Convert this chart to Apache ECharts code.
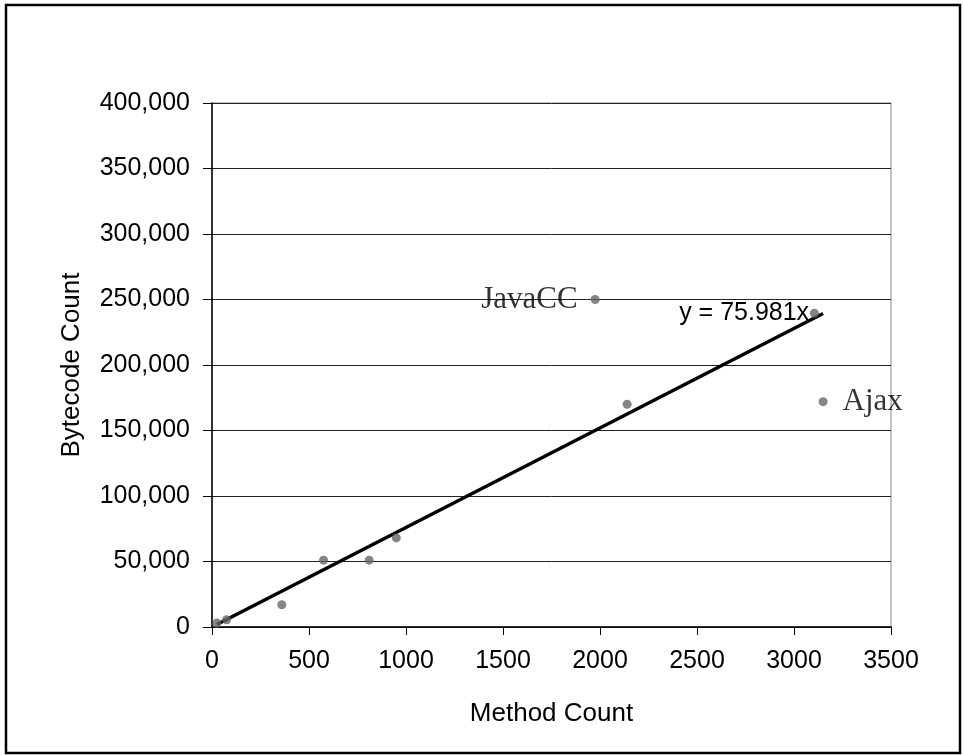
<!DOCTYPE html>
<html>
<head>
<meta charset="utf-8">
<script src="https://cdn.jsdelivr.net/npm/echarts@6/dist/echarts.min.js"></script>
<style>html,body{margin:0;padding:0;background:#fff}#c{width:964px;height:755px}</style>
</head>
<body>
<div id="c"></div>
<script>
const methodCounts   = [25, 75, 360, 575, 810, 950, 1975, 2140, 3105, 3150];
const bytecodeCounts = [3000, 5500, 17000, 51000, 51000, 68000, 250000, 170000, 239500, 172000];
const pointNames     = ['', '', '', '', '', '', 'JavaCC', '', '', 'Ajax'];
const trendSlope = 75.981;
const trendLabel = 'y = 75.981x';
const xTicks = [0, 500, 1000, 1500, 2000, 2500, 3000, 3500];
const yTicks = [0, 50000, 100000, 150000, 200000, 250000, 300000, 350000, 400000];

const chart = echarts.init(document.getElementById('c'), null, {renderer: 'canvas'});
const sans = 'Liberation Sans, Arial, sans-serif';
const serif = 'Liberation Serif, Times New Roman, serif';

const scatterData = methodCounts.map((x, i) => {
  const d = {value: [x, bytecodeCounts[i]], name: pointNames[i]};
  if (pointNames[i]) {
    d.label = {
      show: true, formatter: '{b}',
      position: pointNames[i] === 'Ajax' ? 'right' : 'left',
      distance: pointNames[i] === 'Ajax' ? 15 : 13,
      fontFamily: serif, fontSize: 31, color: '#000'
    };
  }
  return d;
});
const xMin = Math.min(...methodCounts), xMax = Math.max(...methodCounts);
const trendData = [
  {value: [xMin, trendSlope * xMin]},
  {value: [xMax, trendSlope * xMax], label: {show: true, formatter: trendLabel, position: 'left', distance: 14,
    fontFamily: sans, fontSize: 25, color: '#000'}}
];

chart.setOption({
  animation: false,
  backgroundColor: '#fff',
  grid: {left: 212, right: 73, top: 103, bottom: 128, show: true, borderColor: '#888', borderWidth: 1},
  xAxis: {
    type: 'value', min: xTicks[0], max: xTicks[xTicks.length - 1], interval: 500,
    name: 'Method Count', nameLocation: 'middle', nameGap: 74,
    nameTextStyle: {fontFamily: sans, fontSize: 26, color: '#000'},
    axisLine: {show: true, onZero: false, lineStyle: {color: '#000', width: 1.5}},
    axisTick: {show: true, inside: false, length: 8, lineStyle: {color: '#000'}},
    axisLabel: {margin: 22, fontFamily: sans, fontSize: 25, color: '#000', formatter: v => String(v)},
    splitLine: {show: false}
  },
  yAxis: {
    type: 'value', min: yTicks[0], max: yTicks[yTicks.length - 1], interval: 50000,
    name: 'Bytecode Count', nameLocation: 'middle', nameGap: 127,
    nameTextStyle: {fontFamily: sans, fontSize: 26, color: '#000'},
    axisLine: {show: true, lineStyle: {color: '#000', width: 1.5}},
    axisTick: {show: true, inside: false, length: 9, lineStyle: {color: '#000'}},
    axisLabel: {margin: 22, fontFamily: sans, fontSize: 25, color: '#000',
      formatter: v => v.toLocaleString('en-US')},
    splitLine: {show: true, lineStyle: {color: '#222', width: 1}}
  },
  graphic: [{
    type: 'rect', shape: {x: 6, y: 5, width: 954, height: 748},
    style: {fill: 'none', stroke: '#000', lineWidth: 2.5}, silent: true, z: -1
  }],
  series: [
    {
      type: 'line', data: trendData, symbol: 'circle', symbolSize: 0.01, showSymbol: true,
      itemStyle: {color: '#000'},
      lineStyle: {color: '#000', width: 3.5}, z: 3
    },
    {
      type: 'scatter', data: scatterData, symbol: 'circle', symbolSize: 9,
      itemStyle: {color: '#666'}, z: 4
    }
  ]
});
</script>
</body>
</html>
